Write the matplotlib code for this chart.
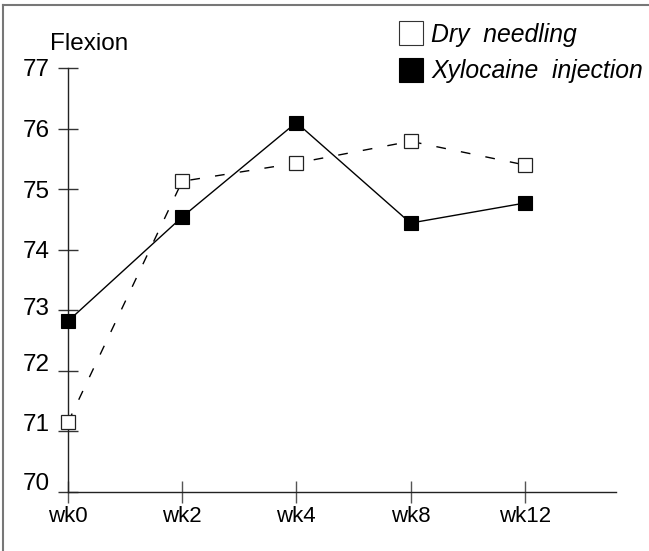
import matplotlib.pyplot as plt
from matplotlib.lines import Line2D
from matplotlib.transforms import ScaledTranslation

plt.rcParams['font.family'] = ['Liberation Sans', 'DejaVu Sans']

weeks = ['wk0', 'wk2', 'wk4', 'wk8', 'wk12']
dry_needling = [71.15, 75.13, 75.43, 75.79, 75.40]
xylocaine = [72.82, 74.54, 76.10, 74.44, 74.77]
yticks = [70, 71, 72, 73, 74, 75, 76, 77]

W, H = 649, 551
fig = plt.figure(figsize=(W / 100, H / 100), dpi=100)
ax = fig.add_axes([68 / W, 1 - 492 / H, (616 - 68) / W, (492 - 68) / H])

x = list(range(len(weeks)))

# xylocaine: filled squares, solid line
ax.plot(x, xylocaine, color='black', lw=1.0, marker='s', ms=9.5,
        mfc='black', mec='black', mew=0.8, clip_on=False, zorder=3)
# dry needling: open squares, dashed line
ax.plot(x, dry_needling, color='black', lw=1.0, ls=(0, (7, 11)), marker='s', ms=9.5,
        mfc='white', mec='#222222', mew=0.9, clip_on=False, zorder=3)

ax.set_xlim(0, 4.8)
ax.set_ylim(70, 77)
ax.set_xticks(x)
ax.set_xticklabels(weeks, fontsize=16)
ax.set_yticks(yticks)
ax.set_yticklabels([str(v) for v in yticks], fontsize=17.5)

ax.tick_params(axis='y', direction='inout', length=15, width=1, pad=5.5, color='#333333')
ax.tick_params(axis='x', direction='inout', length=16, width=1, pad=2, color='#555555')

for s in ['top', 'right']:
    ax.spines[s].set_visible(False)
for s in ['left', 'bottom']:
    ax.spines[s].set_linewidth(1)
    ax.spines[s].set_color('#222222')

# small upward shifts of the lower y tick labels, as in the original
shifts = {70: 11, 71: 9, 72: 8, 73: 4}
for v, lab in zip(yticks, ax.get_yticklabels()):
    dy = shifts.get(v, 0)
    if dy:
        lab.set_transform(lab.get_transform() + ScaledTranslation(0, dy / 100, fig.dpi_scale_trans))

fig.text(50 / W, 1 - 50 / H, 'Flexion', fontsize=17.5, va='baseline', ha='left')

handles = [
    Line2D([], [], ls='none', marker='s', ms=17, mfc='white', mec='#333333', mew=0.8),
    Line2D([], [], ls='none', marker='s', ms=17, mfc='black', mec='black', mew=0.8),
]
fig.legend(handles, ['Dry  needling', 'Xylocaine  injection'], loc='upper left',
           bbox_to_anchor=(399 / W, 1 - 23 / H), frameon=False, borderpad=0,
           borderaxespad=0, handlelength=1.0, handletextpad=0.3, labelspacing=0.5,
           prop={'style': 'italic', 'size': 17.8})

# frame lines along top and left of the picture
fig.add_artist(Line2D([3 / W, 3 / W], [0, 1 - 5 / H], transform=fig.transFigure,
                      color='#777777', lw=1.5))
fig.add_artist(Line2D([3 / W, 1], [1 - 5 / H, 1 - 5 / H], transform=fig.transFigure,
                      color='#777777', lw=1.5))

fig.savefig('out.png', dpi=100)
